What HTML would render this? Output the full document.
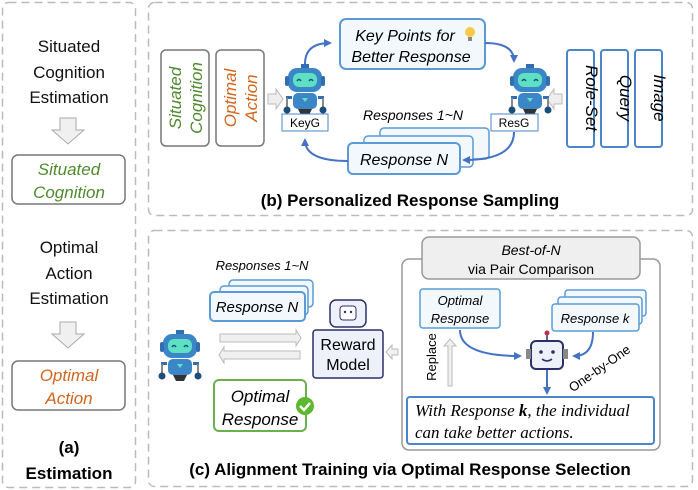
<!DOCTYPE html>
<html><head><meta charset="utf-8"><style>
body{margin:0;background:#fff}
svg{display:block;font-family:"Liberation Sans","DejaVu Sans",sans-serif}
</style></head><body>
<svg width="698" height="490" viewBox="0 0 698 490" xmlns="http://www.w3.org/2000/svg">
<defs>
<marker id="ah" markerWidth="8" markerHeight="8" refX="6" refY="4" orient="auto" markerUnits="userSpaceOnUse"><path d="M0,0 L8,4 L0,8 z" fill="#4472c4"/></marker>
<g id="robot">
 <rect x="-4" y="-22" width="8" height="6" fill="#2f6fb0"/>
 <rect x="-17" y="-18" width="34" height="24" rx="9" fill="#3b86c6"/>
 <rect x="-12" y="-13" width="24" height="14" rx="6" fill="#5ee0c4"/>
 <path d="M-8,-5 q2,-3 4,0 M4,-5 q2,-3 4,0" stroke="#1d4d7a" stroke-width="1.5" fill="none"/>
 <rect x="-20" y="-10" width="4" height="10" rx="2" fill="#2f6fb0"/><rect x="16" y="-10" width="4" height="10" rx="2" fill="#2f6fb0"/>
 <rect x="-12" y="7" width="24" height="16" rx="5" fill="#3b86c6"/>
 <path d="M-3,12 h6 l-3,4z" fill="#5ee0c4"/>
 <rect x="-19" y="10" width="6" height="3" fill="#2f6fb0"/><rect x="13" y="10" width="6" height="3" fill="#2f6fb0"/>
 <line x1="-18" y1="12" x2="-18" y2="22" stroke="#888" stroke-width="2"/><line x1="18" y1="12" x2="18" y2="22" stroke="#888" stroke-width="2"/>
 <circle cx="-18" cy="24" r="3.5" fill="#1d4d7a"/><circle cx="18" cy="24" r="3.5" fill="#1d4d7a"/>
 <path d="M-7,23 h14 l-3,6 h-8z" fill="#333"/>
</g>
</defs>

<!-- panel a -->
<rect x="2.5" y="2.5" width="133" height="485" rx="6" fill="none" stroke="#bbb" stroke-dasharray="8,5" stroke-width="1.5"/>
<g font-size="17" fill="#111" text-anchor="middle">
<text x="69" y="52">Situated</text><text x="69" y="78">Cognition</text><text x="69" y="103">Estimation</text>
<text x="69" y="253">Optimal</text><text x="69" y="279">Action</text><text x="69" y="304">Estimation</text>
</g>
<path d="M60,118 h16 v12 h8 l-16,14 l-16,-14 h8z" fill="#f0f0f0" stroke="#aaa"/>
<path d="M60,322 h16 v12 h8 l-16,14 l-16,-14 h8z" fill="#f0f0f0" stroke="#aaa"/>
<rect x="12" y="155" width="113" height="49" rx="6" fill="#fff" stroke="#777" stroke-width="1.5"/>
<rect x="12" y="361" width="113" height="49" rx="6" fill="#fff" stroke="#777" stroke-width="1.5"/>
<g font-size="17" font-style="italic" text-anchor="middle">
<text x="69" y="175" fill="#4f8a2e">Situated</text><text x="69" y="198" fill="#4f8a2e">Cognition</text>
<text x="69" y="381" fill="#d0651c">Optimal</text><text x="69" y="404" fill="#d0651c">Action</text>
</g>
<text x="69" y="453" font-size="17" font-weight="bold" text-anchor="middle">(a)</text>
<text x="69" y="479" font-size="17" font-weight="bold" text-anchor="middle">Estimation</text>

<!-- panel b -->
<rect x="148.5" y="2.5" width="544" height="213" rx="6" fill="none" stroke="#bbb" stroke-dasharray="8,5" stroke-width="1.5"/>
<rect x="161" y="50" width="48" height="96" rx="5" fill="#fff" stroke="#777" stroke-width="1.5"/>
<rect x="216" y="50" width="48" height="96" rx="5" fill="#fff" stroke="#777" stroke-width="1.5"/>
<g font-size="17" font-style="italic">
<text transform="translate(181,98) rotate(-90)" text-anchor="middle" fill="#4f8a2e">Situated</text>
<text transform="translate(202,98) rotate(-90)" text-anchor="middle" fill="#4f8a2e">Cognition</text>
<text transform="translate(236,98) rotate(-90)" text-anchor="middle" fill="#d0651c">Optimal</text>
<text transform="translate(257,98) rotate(-90)" text-anchor="middle" fill="#d0651c">Action</text>
</g>
<path d="M268,94 h8 v-5 l7,10 l-7,10 v-5 h-8z" fill="#eee" stroke="#bbb"/>
<path d="M562,94 h-8 v-5 l-7,10 l7,10 v-5 h8z" fill="#eee" stroke="#bbb"/>
<use href="#robot" x="305" y="86"/>
<use href="#robot" x="530" y="86"/>
<rect x="282" y="114" width="46" height="17" fill="#fff" stroke="#4a86c8"/>
<text x="305" y="127" font-size="12" text-anchor="middle">KeyG</text>
<rect x="491" y="114" width="47" height="17" fill="#fff" stroke="#4a86c8"/>
<text x="514" y="127" font-size="12" text-anchor="middle">ResG</text>
<rect x="340" y="19" width="145" height="50" rx="6" fill="#f3f8fd" stroke="#5b9bd5" stroke-width="2"/>
<text x="405" y="41" font-size="16" font-style="italic" text-anchor="middle">Key Points for</text>
<text x="411" y="62" font-size="16" font-style="italic" text-anchor="middle">Better Response</text>
<circle cx="470" cy="32" r="5" fill="#f7c948"/><rect x="468" y="37" width="4" height="4" fill="#888"/>
<path d="M305,64 Q305,43 330,43" stroke="#4472c4" stroke-width="2" fill="none" marker-end="url(#ah)"/>
<path d="M485,43 Q514,43 514,61" stroke="#4472c4" stroke-width="2" fill="none" marker-end="url(#ah)"/>
<rect x="380" y="128" width="109" height="31" rx="4" fill="#f3f8fd" stroke="#5b9bd5" stroke-width="1.5"/>
<rect x="364" y="136" width="109" height="31" rx="4" fill="#f3f8fd" stroke="#5b9bd5" stroke-width="1.5"/>
<rect x="348" y="143" width="112" height="31" rx="5" fill="#f3f8fd" stroke="#5b9bd5" stroke-width="2"/>
<text x="404" y="165" font-size="16" font-style="italic" text-anchor="middle">Response N</text>
<text x="413" y="120" font-size="14" font-style="italic" text-anchor="middle">Responses 1~N</text>
<path d="M514,132 Q514,160 464,160" stroke="#4472c4" stroke-width="2" fill="none" marker-end="url(#ah)"/>
<path d="M348,161 Q305,161 305,140" stroke="#4472c4" stroke-width="2" fill="none" marker-end="url(#ah)"/>
<rect x="567" y="50" width="27" height="97" rx="3" fill="#fff" stroke="#4a86c8" stroke-width="2"/>
<rect x="601" y="50" width="27" height="97" rx="3" fill="#fff" stroke="#4a86c8" stroke-width="2"/>
<rect x="635" y="50" width="27" height="97" rx="3" fill="#fff" stroke="#4a86c8" stroke-width="2"/>
<g font-size="17" font-style="italic">
<text transform="translate(586,98) rotate(90)" text-anchor="middle">Role-Set</text>
<text transform="translate(620,98) rotate(90)" text-anchor="middle">Query</text>
<text transform="translate(654,98) rotate(90)" text-anchor="middle">Image</text>
</g>
<text x="410" y="206" font-size="17" font-weight="bold" text-anchor="middle">(b) Personalized Response Sampling</text>

<!-- panel c -->
<rect x="148.5" y="230.5" width="544" height="256" rx="6" fill="none" stroke="#bbb" stroke-dasharray="8,5" stroke-width="1.5"/>
<text x="262" y="270" font-size="13" font-style="italic" text-anchor="middle">Responses 1~N</text>
<rect x="229" y="280" width="84" height="27" rx="4" fill="#f3f8fd" stroke="#5b9bd5" stroke-width="1.5"/>
<rect x="220" y="286" width="88" height="29" rx="4" fill="#f3f8fd" stroke="#5b9bd5" stroke-width="1.5"/>
<rect x="210" y="292" width="95" height="29" rx="4" fill="#f3f8fd" stroke="#5b9bd5" stroke-width="2"/>
<text x="257" y="312" font-size="15" font-style="italic" text-anchor="middle">Response N</text>
<use href="#robot" x="180" y="352"/>
<path d="M220,334 h76 v-4 l5,8 l-5,8 v-4 h-76z" fill="#f0f0f0" stroke="#bbb"/>
<path d="M300,351 h-76 v-4 l-5,8 l5,8 v-4 h76z" fill="#f0f0f0" stroke="#bbb"/>
<rect x="214" y="380" width="92" height="51" rx="5" fill="#fff" stroke="#6ab04c" stroke-width="2"/>
<text x="260" y="402" font-size="17" font-style="italic" text-anchor="middle">Optimal</text>
<text x="260" y="425" font-size="17" font-style="italic" text-anchor="middle">Response</text>
<circle cx="305" cy="406" r="9" fill="#5cb82e"/>
<path d="M300,406 l4,4 l6,-7" stroke="#fff" stroke-width="2.5" fill="none"/>
<rect x="330" y="300" width="36" height="27" rx="6" fill="#eef0fa" stroke="#2b2f6b" stroke-width="1.5"/>
<rect x="340" y="306" width="16" height="14" rx="3" fill="#fff" stroke="#2b2f6b"/>
<circle cx="345" cy="312" r="1.2" fill="#2b2f6b"/><circle cx="351" cy="312" r="1.2" fill="#2b2f6b"/>
<rect x="313" y="330" width="70" height="48" rx="3" fill="#eef0fa" stroke="#2b2f6b" stroke-width="1.5"/>
<text x="348" y="350" font-size="16" text-anchor="middle">Reward</text>
<text x="348" y="370" font-size="16" text-anchor="middle">Model</text>
<path d="M398,349 h-6 v-4 l-6,7 l6,7 v-4 h6z" fill="#f0f0f0" stroke="#bbb"/>
<rect x="402" y="259" width="258" height="191" rx="7" fill="#fff" stroke="#999" stroke-width="1.5"/>
<rect x="422" y="237" width="218" height="42" rx="7" fill="#efefef" stroke="#999" stroke-width="1.5"/>
<text x="531" y="255" font-size="14" font-style="italic" text-anchor="middle">Best-of-N</text>
<text x="531" y="274" font-size="14" text-anchor="middle">via Pair Comparison</text>
<rect x="420" y="289" width="80" height="39" rx="3" fill="#f3f8fd" stroke="#5b9bd5" stroke-width="1.5"/>
<text x="460" y="305" font-size="13" font-style="italic" text-anchor="middle">Optimal</text>
<text x="460" y="323" font-size="13" font-style="italic" text-anchor="middle">Response</text>
<rect x="565" y="290" width="81" height="26" rx="3" fill="#f3f8fd" stroke="#5b9bd5" stroke-width="1.5"/>
<rect x="558" y="297" width="84" height="27" rx="3" fill="#f3f8fd" stroke="#5b9bd5" stroke-width="1.5"/>
<rect x="552" y="304" width="87" height="27" rx="3" fill="#f3f8fd" stroke="#5b9bd5" stroke-width="1.5"/>
<text x="595" y="323" font-size="13" font-style="italic" text-anchor="middle">Response k</text>
<line x1="547" y1="340" x2="547" y2="333" stroke="#2b2f6b" stroke-width="1.5"/><circle cx="547" cy="333" r="2.5" fill="#c0304a"/>
<rect x="531" y="341" width="32" height="28" rx="5" fill="#eef0fa" stroke="#2b2f6b" stroke-width="2"/>
<rect x="526" y="349" width="5" height="10" fill="#888"/><rect x="563" y="349" width="5" height="10" fill="#888"/>
<circle cx="541" cy="352" r="1.8" fill="#2b2f6b"/><circle cx="553" cy="352" r="1.8" fill="#2b2f6b"/>
<path d="M542,359 q5,4 10,0" stroke="#2b2f6b" stroke-width="1.5" fill="none"/>
<path d="M460,330 Q460,356 520,356" stroke="#4472c4" stroke-width="2" fill="none" marker-end="url(#ah)"/>
<path d="M593,332 Q593,356 574,356" stroke="#4472c4" stroke-width="2" fill="none" marker-end="url(#ah)"/>
<line x1="547" y1="370" x2="547" y2="393" stroke="#4472c4" stroke-width="2" marker-end="url(#ah)"/>
<path d="M448,386 v-40 h-4 l6,-7 l6,7 h-4 v40z" fill="#f0f0f0" stroke="#bbb"/>
<text transform="translate(436,357) rotate(-90)" font-size="13" text-anchor="middle">Replace</text>
<text transform="translate(602,372) rotate(-35)" font-size="13" text-anchor="middle">One-by-One</text>
<rect x="407" y="397" width="247" height="47" rx="3" fill="#fff" stroke="#4a86c8" stroke-width="2"/>
<g font-family="Liberation Serif,serif" font-style="italic" font-size="17">
<text x="415" y="416">With Response <tspan font-weight="bold">k</tspan>, the individual</text>
<text x="415" y="438">can take better actions.</text>
</g>
<text x="410" y="475" font-size="17" font-weight="bold" text-anchor="middle">(c) Alignment Training via Optimal Response Selection</text>
</svg>
</body></html>
